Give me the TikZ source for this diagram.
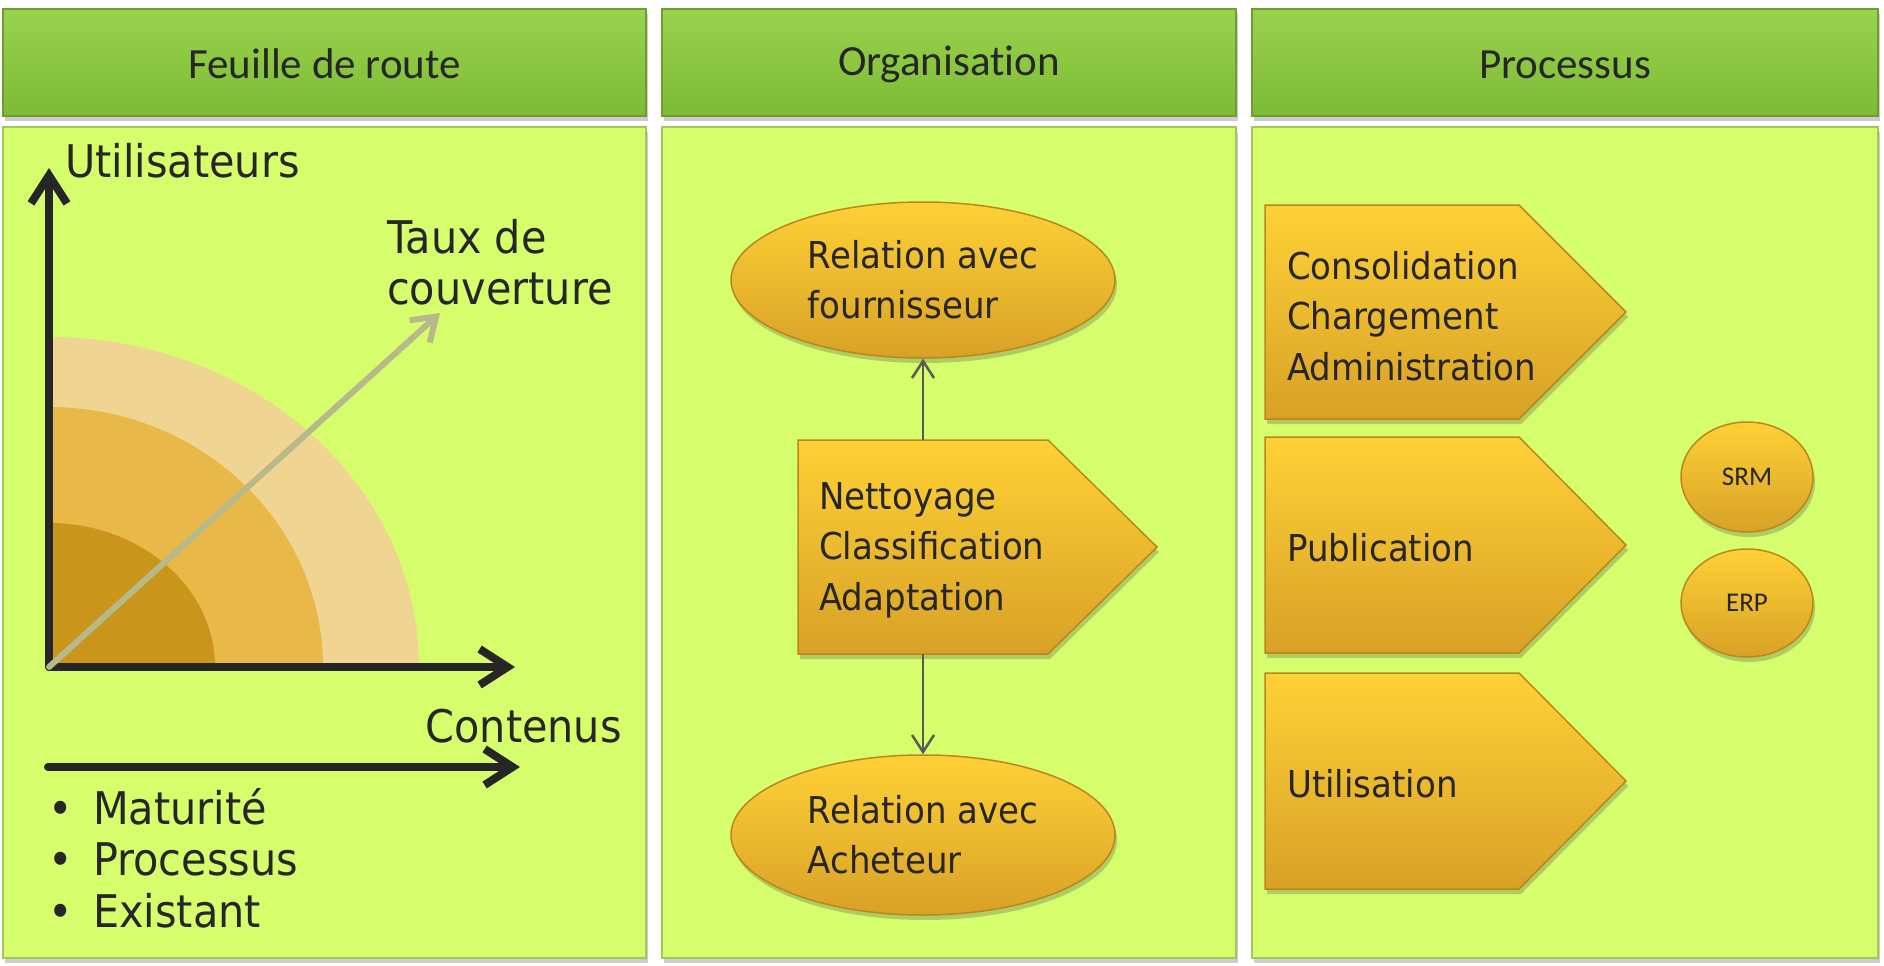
\documentclass[tikz,border=0pt]{standalone}
\usepackage{fontspec}
\setmainfont{DejaVu Sans}[FakeStretch=0.92]
\newfontfamily\titre{Carlito}[Ligatures=NoCommon]
\usepackage{tikz}
\usetikzlibrary{calc,positioning,shapes.geometric,arrows.meta,shadows}
\definecolor{verthaut}{HTML}{9AD24E}
\definecolor{vertbas}{HTML}{7DBB35}
\definecolor{vertfonce}{HTML}{6E9E30}
\definecolor{lime}{HTML}{D6FE6C}
\definecolor{bordlime}{HTML}{A3C65A}
\definecolor{orhaut}{HTML}{FFD136}
\definecolor{orbas}{HTML}{D8A127}
\definecolor{orfonce}{HTML}{B9871C}
\definecolor{arcA}{HTML}{F0D592}
\definecolor{arcB}{HTML}{E8B948}
\definecolor{arcC}{HTML}{C9961B}
\definecolor{diag}{HTML}{B7B98A}
\definecolor{encre}{HTML}{262626}
\definecolor{gris}{HTML}{595959}
\tikzset{
	ombre/.style={drop shadow={shadow xshift=2pt, shadow yshift=-5pt, opacity=.28, fill=black!70}},
	entete/.style={draw=vertfonce, line width=1.5pt, top color=verthaut, bottom color=vertbas, ombre, text=encre, text height=33pt, font=\titre\fontsize{43}{48}\selectfont},
	panneau/.style={draw=bordlime, line width=1.5pt, fill=lime, ombre},
	forme/.style={draw=orfonce, line width=1.5pt, top color=orhaut, bottom color=orbas, ombre},
	ovale/.style={forme, ellipse, inner sep=0pt, align=left, text=encre, font=\fontsize{37}{50}\selectfont},
	rond/.style={forme, ellipse, inner sep=0pt, text=encre, font=\titre\fontsize{27}{30}\selectfont},
	txtg/.style={text=encre, align=left, inner sep=0pt, font=\fontsize{45}{51.5}\selectfont},
	txtm/.style={text=encre, align=left, inner sep=0pt, font=\fontsize{37}{50.5}\selectfont},
	axe/.style={draw=encre, line width=8pt, line cap=round, line join=round, -{Straight Barb[length=28pt,width=36pt]}},
	axediag/.style={draw=diag, line width=6pt, line cap=round, line join=round, -{Straight Barb[length=22pt,width=30pt]}},
	lien/.style={draw=gris, line width=2.5pt, -{Straight Barb[length=17pt,width=22pt]}}
}
\begin{document}
\begin{tikzpicture}[x=1pt,y=-1pt]
	\useasboundingbox[fill=white] (0,0) rectangle (1884,966);
	\node[entete, minimum width=643pt, minimum height=107pt] (t1) at (324.5,62.5) {Feuille de route};
	\node[entete, minimum width=574pt, minimum height=107pt] (t2) at (949,62.5) {Organisation};
	\node[entete, minimum width=626pt, minimum height=107pt] (t3) at (1565,62.5) {Processus};
	\node[panneau, minimum width=643pt, minimum height=831pt] (p1) at (324.5,542.5) {};
	\node[panneau, minimum width=574pt, minimum height=831pt] (p2) at (949,542.5) {};
	\node[panneau, minimum width=626pt, minimum height=831pt] (p3) at (1565,542.5) {};

	\coordinate (O) at (49,667);
	\coordinate (Ytip) at (49,168);
	\coordinate (Xtip) at (515,667);
	\coordinate (Dtip) at (440,313);
	\fill[arcA] (O) -- ++(370,0) arc[start angle=0, end angle=-90, x radius=370, y radius=330] -- cycle;
	\fill[arcB] (O) -- ++(274,0) arc[start angle=0, end angle=-90, x radius=274, y radius=260] -- cycle;
	\fill[arcC] (O) -- ++(166,0) arc[start angle=0, end angle=-90, x radius=166, y radius=144] -- cycle;
	\draw[axe] (O) -- (Ytip);
	\draw[axe] (O) -- (Xtip);
	\draw[axediag] (O) -- (Dtip);
	\node[txtg, anchor=base west] (util) at (65,177) {Utilisateurs};
	\node[txtg, anchor=west] (taux) at (387,262) {Taux de\\couverture};
	\node[txtg, anchor=base east] (cont) at (622,742) {Contenus};
	\coordinate (C1) at (48,767);
	\coordinate (C2) at (520,767);
	\draw[axe] (C1) -- (C2);
	\node[txtg, anchor=west] (puces) at (48,858) {\makebox[45pt][l]{•}Maturité\\\makebox[45pt][l]{•}Processus\\\makebox[45pt][l]{•}Existant};

	\node[ovale, minimum width=384pt, minimum height=156pt] (four) at (923,280) {Relation avec\\fournisseur};
	\draw[forme] (798,440) -- (1048,440) -- (1157,547) -- (1048,654) -- (798,654) -- cycle;
	\node[txtm, anchor=west] (nett) at (819,550) {Nettoyage\\Classification\\Adaptation};
	\coordinate (nett-n) at (923,440);
	\coordinate (nett-s) at (923,654);
	\node[ovale, minimum width=384pt, minimum height=160pt] (ach) at (923,835) {Relation avec\\Acheteur};
	\draw[lien] (nett-n) -- (four);
	\draw[lien] (nett-s) -- (ach);

	\draw[forme] (1265,205) -- (1519,205) -- (1626,312) -- (1519,419) -- (1265,419) -- cycle;
	\draw[forme] (1265,437) -- (1519,437) -- (1626,545) -- (1519,653) -- (1265,653) -- cycle;
	\draw[forme] (1265,673) -- (1519,673) -- (1626,781) -- (1519,889) -- (1265,889) -- cycle;
	\node[txtm, anchor=west] (cons) at (1287,316) {Consolidation\\Chargement\\Administration};
	\node[txtm, anchor=west] (pub) at (1287,548) {Publication};
	\node[txtm, anchor=west] (usage) at (1287,784) {Utilisation};
	\node[rond, minimum width=132pt, minimum height=110pt] (srm) at (1747,477) {SRM};
	\node[rond, minimum width=132pt, minimum height=108pt] (erp) at (1747,603) {ERP};
\end{tikzpicture}
\end{document}
